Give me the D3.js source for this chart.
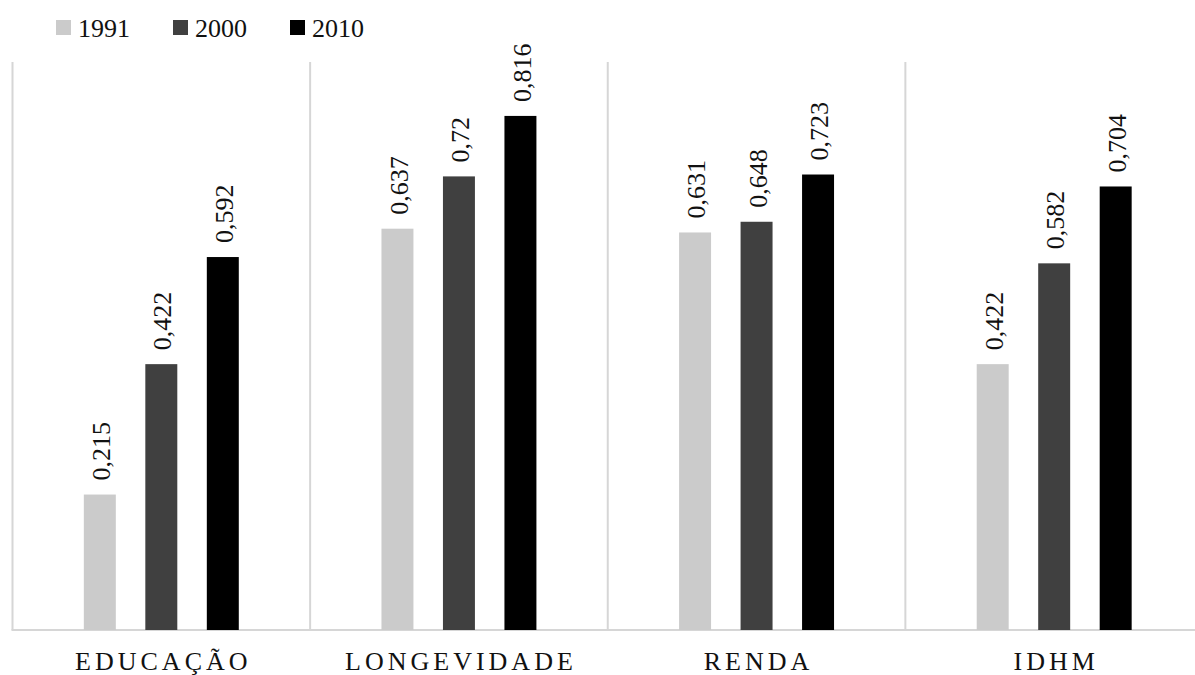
<!DOCTYPE html>
<html>
<head>
<meta charset="utf-8">
<script src="https://cdn.jsdelivr.net/npm/d3@7"></script>
<style>
  html, body { margin: 0; padding: 0; background: #fff; }
  svg { display: block; }
  text { font-family: "Liberation Serif", "Times New Roman", Times, serif; fill: #111; }
</style>
</head>
<body>
<svg id="chart" width="1195" height="675"></svg>
<script>
// Indicator groups and the census years compared
const categories = ["EDUCAÇÃO", "LONGEVIDADE", "RENDA", "IDHM"];
const years = ["1991", "2000", "2010"];

// Index values per year, one entry per category
const values1991 = [0.215, 0.637, 0.631, 0.422];
const values2000 = [0.422, 0.720, 0.648, 0.582];
const values2010 = [0.592, 0.816, 0.723, 0.704];

const seriesValues = [values1991, values2000, values2010];
const colors = ["#cbcbcb", "#404040", "#000000"];
const serif = "'Liberation Serif', 'Times New Roman', Times, serif";

const svg = d3.select("#chart");
const width = 1195, height = 675;
const plot = { left: 12.5, right: 1203, top: 63, bottom: 630 };

const x = d3.scaleBand().domain(categories).range([plot.left, plot.right]).padding(0);
const xs = d3.scaleBand().domain(years).range([0, x.bandwidth()])
  .paddingInner(0.48).paddingOuter(1.16);
const y = d3.scaleLinear().domain([0, 0.9]).range([plot.bottom, plot.top]);

const fmt = v => d3.format(".3~f")(v).replace(".", ",");

// Frame: left edge, category separators and baseline
const frame = svg.append("g").attr("stroke", "#d6d6d6").attr("stroke-width", 2);
frame.selectAll("line.sep")
  .data(categories)
  .join("line")
  .attr("class", "sep")
  .attr("x1", d => x(d)).attr("x2", d => x(d))
  .attr("y1", plot.top - 1).attr("y2", plot.bottom);
frame.append("line")
  .attr("x1", plot.left - 1).attr("x2", width)
  .attr("y1", plot.bottom).attr("y2", plot.bottom);

// Bars
const rows = [];
categories.forEach((c, i) => {
  years.forEach((yr, j) => rows.push({ cat: c, year: yr, value: seriesValues[j][i], color: colors[j] }));
});

const bars = svg.append("g");
bars.selectAll("rect")
  .data(rows)
  .join("rect")
  .attr("x", d => x(d.cat) + xs(d.year))
  .attr("width", xs.bandwidth())
  .attr("y", d => y(d.value))
  .attr("height", d => y(0) - y(d.value))
  .attr("fill", d => d.color);

// Value labels, rotated above each bar
bars.selectAll("text")
  .data(rows)
  .join("text")
  .attr("transform", d => {
    const cx = x(d.cat) + xs(d.year) + xs.bandwidth() / 2 + 1;
    const ty = y(d.value) - 14;
    return `translate(${cx},${ty}) rotate(-90)`;
  })
  .attr("text-anchor", "start")
  .attr("dy", "0.35em")
  .attr("font-family", serif)
  .style("font-family", serif)
  .style("font-size", "26px")
  .text(d => fmt(d.value));

// Category axis labels
const xAxis = d3.axisBottom(x).tickSize(0).tickPadding(0);
const axisG = svg.append("g")
  .attr("transform", `translate(0,${plot.bottom})`)
  .call(xAxis)
  .attr("font-family", serif);
axisG.select(".domain").remove();
axisG.selectAll("text")
  .attr("y", 40)
  .attr("dy", 0)
  .attr("dx", "2px")
  .style("font-size", "26px")
  .style("letter-spacing", "4px")
  .style("font-family", serif)
  .attr("fill", "#111");

// Legend
const legendX = d3.scaleOrdinal().domain(years).range([56, 173, 290]);
const legend = svg.append("g");
const item = legend.selectAll("g")
  .data(years)
  .join("g")
  .attr("transform", d => `translate(${legendX(d)},20)`);
item.append("rect")
  .attr("width", 15).attr("height", 15)
  .attr("fill", (d, i) => colors[i]);
item.append("text")
  .attr("x", 22).attr("y", 17)
  .style("font-family", serif)
  .style("font-size", "26px")
  .text(d => d);
</script>
</body>
</html>
